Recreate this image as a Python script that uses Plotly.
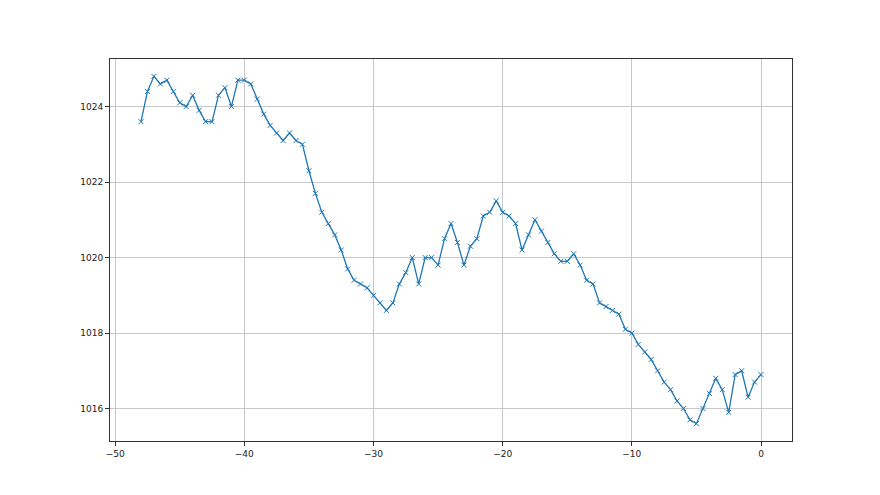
import plotly.graph_objs as go

# hours relative to now
hours = [-48.0, -47.5, -47.0, -46.5, -46.0, -45.5, -45.0, -44.5, -44.0, -43.5,
         -43.0, -42.5, -42.0, -41.5, -41.0, -40.5, -40.0, -39.5, -39.0, -38.5,
         -38.0, -37.5, -37.0, -36.5, -36.0, -35.5, -35.0, -34.5, -34.0, -33.5,
         -33.0, -32.5, -32.0, -31.5, -31.0, -30.5, -30.0, -29.5, -29.0, -28.5,
         -28.0, -27.5, -27.0, -26.5, -26.0, -25.5, -25.0, -24.5, -24.0, -23.5,
         -23.0, -22.5, -22.0, -21.5, -21.0, -20.5, -20.0, -19.5, -19.0, -18.5,
         -18.0, -17.5, -17.0, -16.5, -16.0, -15.5, -15.0, -14.5, -14.0, -13.5,
         -13.0, -12.5, -12.0, -11.5, -11.0, -10.5, -10.0, -9.5, -9.0, -8.5,
         -8.0, -7.5, -7.0, -6.5, -6.0, -5.5, -5.0, -4.5, -4.0, -3.5,
         -3.0, -2.5, -2.0, -1.5, -1.0, -0.5, 0.0]

# pressure readings (hPa)
pressure = [1023.6, 1024.4, 1024.8, 1024.6, 1024.7, 1024.4, 1024.1, 1024.0, 1024.3, 1023.9,
            1023.6, 1023.6, 1024.3, 1024.5, 1024.0, 1024.7, 1024.7, 1024.6, 1024.2, 1023.8,
            1023.5, 1023.3, 1023.1, 1023.3, 1023.1, 1023.0, 1022.3, 1021.7, 1021.2, 1020.9,
            1020.6, 1020.2, 1019.7, 1019.4, 1019.3, 1019.2, 1019.0, 1018.8, 1018.6, 1018.8,
            1019.3, 1019.6, 1020.0, 1019.3, 1020.0, 1020.0, 1019.8, 1020.5, 1020.9, 1020.4,
            1019.8, 1020.3, 1020.5, 1021.1, 1021.2, 1021.5, 1021.2, 1021.1, 1020.9, 1020.2,
            1020.6, 1021.0, 1020.7, 1020.4, 1020.1, 1019.9, 1019.9, 1020.1, 1019.8, 1019.4,
            1019.3, 1018.8, 1018.7, 1018.6, 1018.5, 1018.1, 1018.0, 1017.7, 1017.5, 1017.3,
            1017.0, 1016.7, 1016.5, 1016.2, 1016.0, 1015.7, 1015.6, 1016.0, 1016.4, 1016.8,
            1016.5, 1015.9, 1016.9, 1017.0, 1016.3, 1016.7, 1016.9]

line_color = '#1f77b4'

fig = go.Figure()
fig.add_trace(go.Scatter(
    x=hours,
    y=pressure,
    mode='lines+markers',
    line=dict(color=line_color, width=1.3),
    marker=dict(symbol='x-thin', size=5, line=dict(width=1, color=line_color), color=line_color),
    showlegend=False,
))

# matplotlib-like axes
axis_common = dict(
    showgrid=True, gridcolor='#c8c8c8', gridwidth=1,
    showline=True, linecolor='#333333', linewidth=1, mirror=True,
    ticks='outside', ticklen=4, tickwidth=1, tickcolor='#333333',
    zeroline=False,
    tickfont=dict(family='DejaVu Sans', size=9, color='#222222'),
)

# page body has an 8px margin, so the figure is sized/shifted to land
# the plot area where the reference has it
fig.update_layout(
    width=872, height=487,
    margin=dict(l=102, r=88, t=51, b=54),
    paper_bgcolor='white',
    plot_bgcolor='white',
    xaxis=dict(range=[-50.4, 2.4], tickmode='linear', tick0=-50, dtick=10, **axis_common),
    yaxis=dict(range=[1015.14, 1025.26], tickmode='linear', tick0=1016, dtick=2, **axis_common),
)

fig.write_html("out.html")
